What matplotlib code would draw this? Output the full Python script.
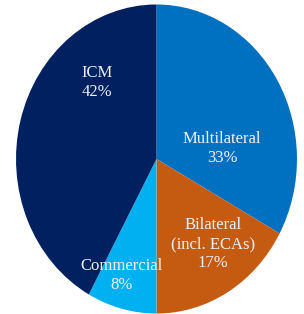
import matplotlib.pyplot as plt

labels = ["Multilateral", "Bilateral\n(incl. ECAs)", "Commercial", "ICM"]
shares = [33, 17, 8, 42]
colors = ["#0070c0", "#c55a11", "#00b0f0", "#002060"]
# label anchor points inside each slice (data coords)
label_xy = [(0.466, 0.068), (0.402, -0.55), (-0.246, -0.751), (-0.424, 0.492)]

plt.rcParams['font.family'] = ['Liberation Serif', 'DejaVu Serif']

fig = plt.figure(figsize=(3.04, 3.14), dpi=100)
ax = fig.add_axes([0, 0, 1, 1])

ax.pie(shares, colors=colors, startangle=90, counterclock=False,
       radius=1, wedgeprops=dict(linewidth=0))
# the original pie is slightly stretched vertically
ax.set_aspect('auto')
ax.set_xlim(-1.114, 1.050)
ax.set_ylim(-1.003, 1.029)
ax.axis('off')

for lab, val, (x, y) in zip(labels, shares, label_xy):
    ax.text(x, y, f"{lab}\n{val}%", ha='center', va='center',
            color='#f2f2f2', fontsize=12, linespacing=1.25)

fig.savefig("out.png", dpi=100)
